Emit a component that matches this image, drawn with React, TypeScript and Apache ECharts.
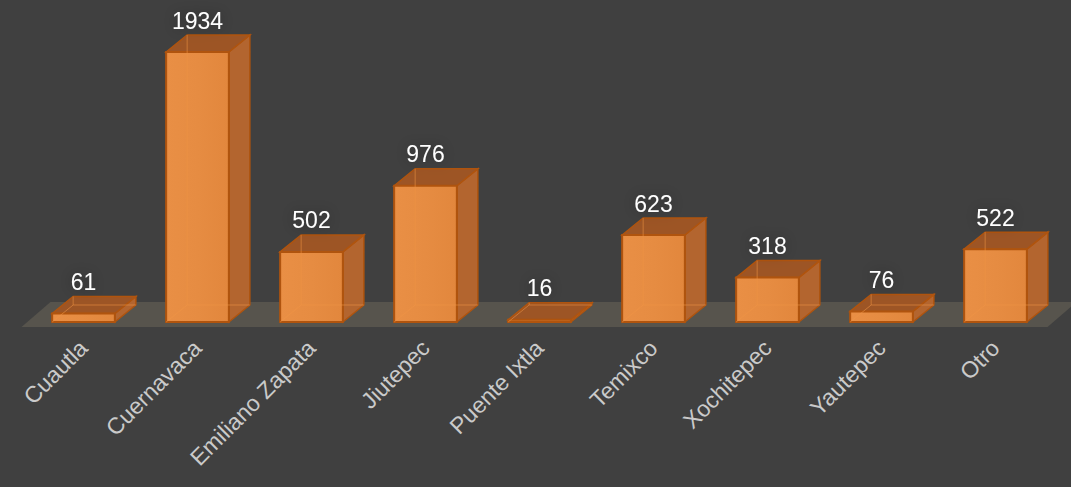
import React, { useEffect, useRef } from "react";
import * as echarts from "echarts";

const categories = [
  "Cuautla",
  "Cuernavaca",
  "Emiliano Zapata",
  "Jiutepec",
  "Puente Ixtla",
  "Temixco",
  "Xochitepec",
  "Yautepec",
  "Otro",
];
const values = [61, 1934, 502, 976, 16, 623, 318, 76, 522];

export default function App() {
  const ref = useRef<HTMLDivElement>(null);
  useEffect(() => {
    document.body.style.margin = "0";
    const chart = echarts.init(ref.current!, null, { renderer: "svg" });
    const DX = 21;
    const DY = -17;
    const option: any = {
      animation: false,
      backgroundColor: "#404040",
      grid: { left: 26.5, right: 18.5, top: 52, bottom: 165, containLabel: false },
      xAxis: {
        type: "category",
        data: categories,
        axisLine: { show: false },
        axisTick: { show: false },
        splitLine: { show: false },
        axisLabel: {
          rotate: 45,
          interval: 0,
          margin: 22,
          color: "#cacaca",
          fontSize: 23,
          fontFamily: "Liberation Sans, Arial, sans-serif",
        },
      },
      yAxis: {
        type: "value",
        min: 0,
        max: 1934,
        show: false,
        splitLine: { show: false },
      },
      series: [
        {
          type: "custom",
          z: 1,
          clip: false,
          silent: true,
          data: [[0, 0]],
          renderItem: (params: any, api: any) => {
            const cs = params.coordSys;
            const left = cs.x;
            const right = cs.x + cs.width;
            const bottom = cs.y + cs.height;
            return {
              type: "polygon",
              shape: {
                points: [
                  [left - 5, bottom + 5],
                  [right - 5, bottom + 5],
                  [right + 24, bottom - 20],
                  [left + 24, bottom - 20],
                ],
              },
              style: { fill: "#57544d" },
            };
          },
        },
        {
          type: "custom",
          z: 2,
          clip: false,
          data: values.map((v, i) => [i, v]),
          renderItem: (params: any, api: any) => {
            const idx = api.value(0);
            const v = api.value(1);
            const top = api.coord([idx, v]);
            const base = api.coord([idx, 0]);
            const band = api.size([1, 0])[0];
            const w = band * 0.55;
            const x0 = top[0] - w / 2;
            const x1 = top[0] + w / 2;
            const yT = top[1];
            const yB = base[1];
            const edge = "#b0540e";
            const hidden = "rgba(240,150,70,0.55)";
            return {
              type: "group",
              children: [
                {
                  type: "polygon",
                  shape: {
                    points: [
                      [x1, yT],
                      [x1 + DX, yT + DY],
                      [x1 + DX, yB + DY],
                      [x1, yB],
                    ],
                  },
                  style: { fill: "#b3652f", stroke: edge, lineWidth: 1.5 },
                },
                {
                  type: "polygon",
                  shape: {
                    points: [
                      [x0, yT],
                      [x0 + DX, yT + DY],
                      [x1 + DX, yT + DY],
                      [x1, yT],
                    ],
                  },
                  style: { fill: "#9d5525", stroke: edge, lineWidth: 1.5 },
                },
                {
                  type: "rect",
                  shape: { x: x0, y: yT, width: w, height: yB - yT },
                  style: {
                    fill: new echarts.graphic.LinearGradient(0, 0, 1, 0, [
                      { offset: 0, color: "#e98f45" },
                      { offset: 0.5, color: "#e68c42" },
                      { offset: 1, color: "#e2873d" },
                    ]),
                    stroke: edge,
                    lineWidth: 2,
                  },
                },
                {
                  type: "polyline",
                  shape: {
                    points: [
                      [x0 + DX, yT + DY],
                      [x0 + DX, yB + DY],
                      [x1 + DX, yB + DY],
                    ],
                  },
                  style: { stroke: hidden, lineWidth: 1, fill: "none" },
                },
                {
                  type: "line",
                  shape: { x1: x0, y1: yB, x2: x0 + DX, y2: yB + DY },
                  style: { stroke: hidden, lineWidth: 1 },
                },
                {
                  type: "text",
                  style: {
                    text: String(v),
                    x: top[0],
                    y: yT + DY - 3,
                    align: "center",
                    verticalAlign: "bottom",
                    fill: "#ffffff",
                    fontSize: 23,
                    fontFamily: "Liberation Sans, Arial, sans-serif",
                    textShadowColor: "rgba(0,0,0,0.35)",
                    textShadowBlur: 14,
                  },
                },
              ],
            };
          },
        },
      ],
    };
    chart.setOption(option);
    return () => chart.dispose();
  }, []);
  return (
    <div
      ref={ref}
      style={{ position: "fixed", left: 0, top: 0, width: 1071, height: 487 }}
    />
  );
}
